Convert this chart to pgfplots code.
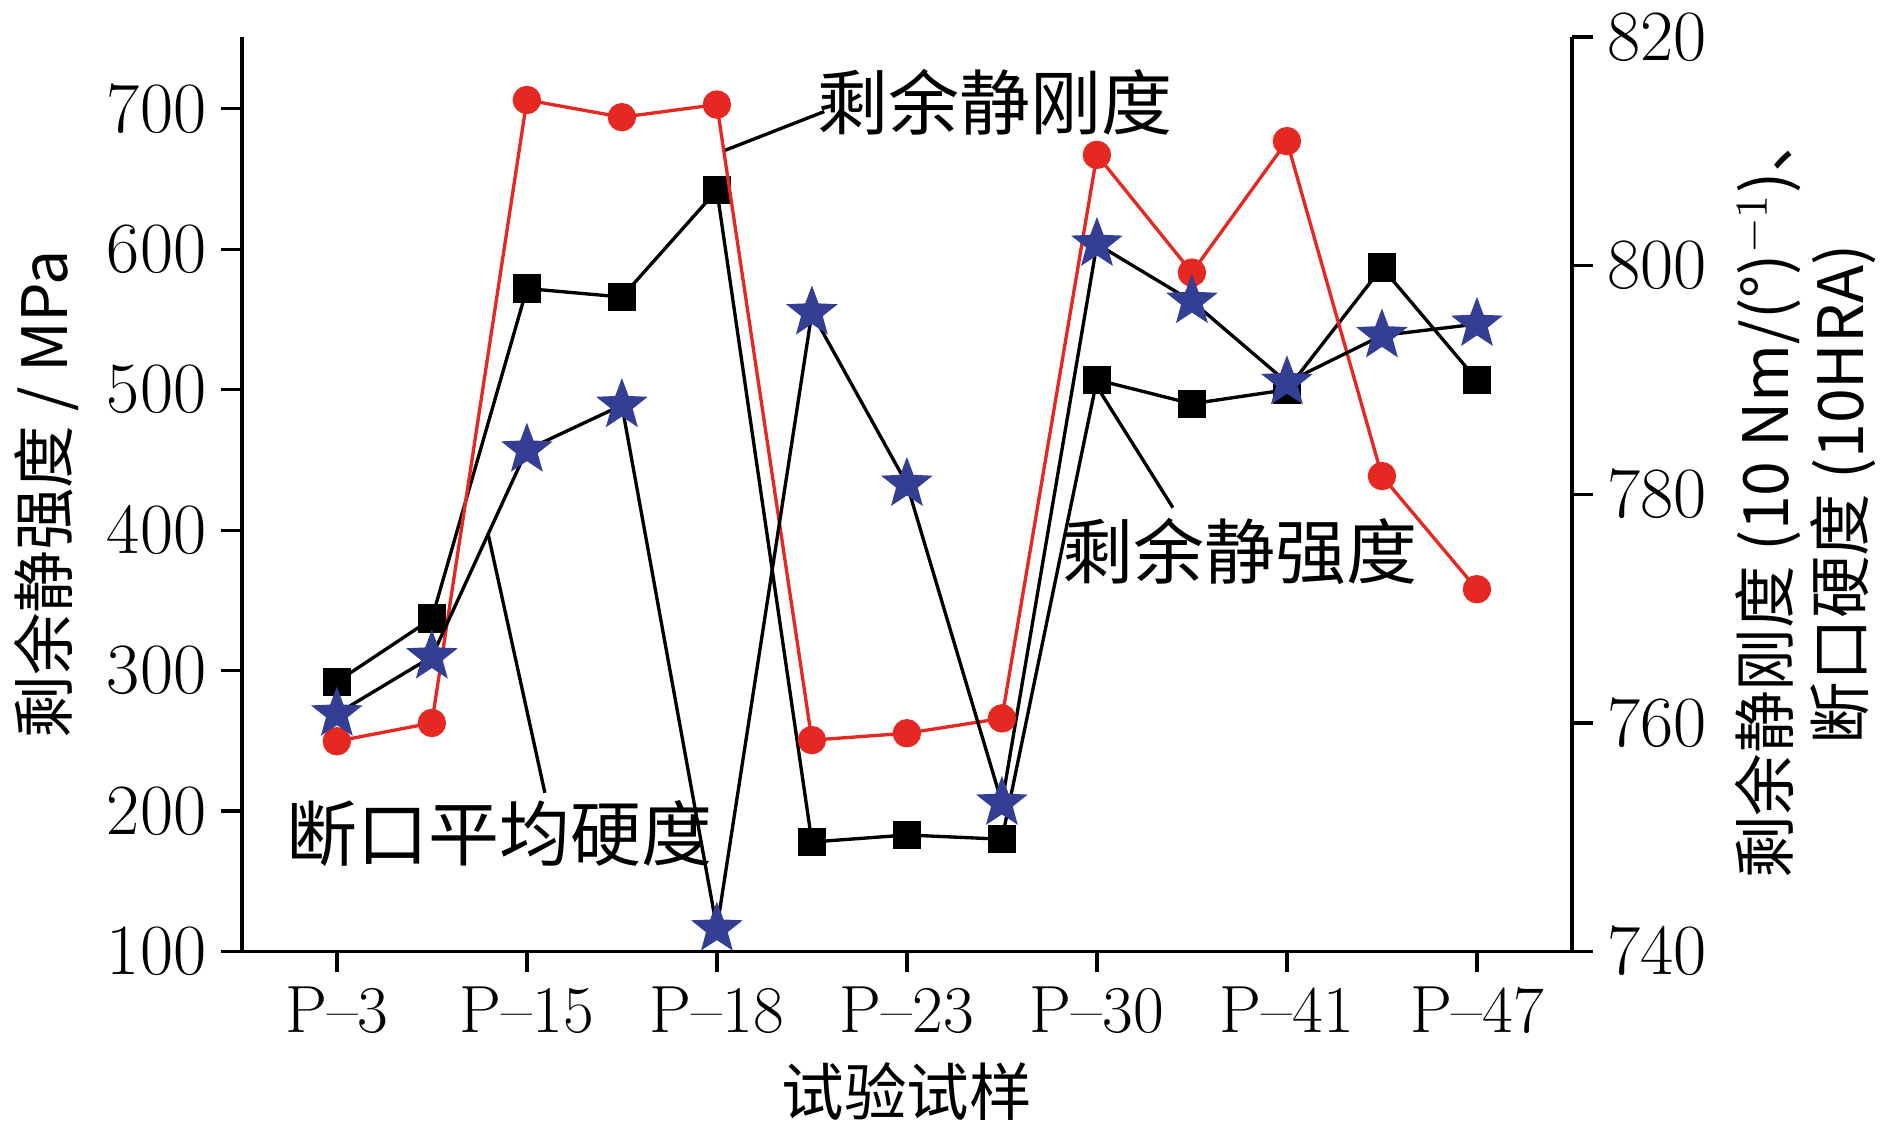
\documentclass[border=0pt]{standalone}
\usepackage{pgfplots}
\pgfplotsset{compat=1.18}
\usepackage{fontspec}
\newfontfamily\cjk{Noto Sans CJK SC}
\definecolor{myblue}{RGB}{52,62,146}
\definecolor{myred}{RGB}{230,40,35}
\pgfdeclareplotmark{fstar}{%
 \pgfpathmoveto{\pgfqpointpolar{90}{\pgfplotmarksize}}%
 \pgfpathlineto{\pgfqpointpolar{126}{0.42\pgfplotmarksize}}%
 \pgfpathlineto{\pgfqpointpolar{162}{\pgfplotmarksize}}%
 \pgfpathlineto{\pgfqpointpolar{198}{0.42\pgfplotmarksize}}%
 \pgfpathlineto{\pgfqpointpolar{234}{\pgfplotmarksize}}%
 \pgfpathlineto{\pgfqpointpolar{270}{0.42\pgfplotmarksize}}%
 \pgfpathlineto{\pgfqpointpolar{306}{\pgfplotmarksize}}%
 \pgfpathlineto{\pgfqpointpolar{342}{0.42\pgfplotmarksize}}%
 \pgfpathlineto{\pgfqpointpolar{18}{\pgfplotmarksize}}%
 \pgfpathlineto{\pgfqpointpolar{54}{0.42\pgfplotmarksize}}%
 \pgfpathclose\pgfusepathqfill}
\begin{document}
\begin{tikzpicture}
\pgfplotsset{every axis/.style={width=11.2cm,height=7.7cm,scale only axis,
 xmin=-1,xmax=13, xtick={0,2,4,6,8,10,12}, xticklabels={P--3,P--15,P--18,P--23,P--30,P--41,P--47},
 tick style={black,thick}, tick align=outside, major tick length=5pt,
 ticklabel style={font=\fontsize{16}{18}\selectfont}, axis line style={thick},
 label style={font=\cjk\fontsize{15}{18}\selectfont}}}
\begin{axis}[axis x line*=bottom, axis y line*=left, ymin=100, ymax=751,
 ytick={100,200,...,700}, xlabel={试验试样}, ylabel={剩余静强度 / MPa}, clip=false]
\addplot[black,thick,mark=square*,mark size=3pt] coordinates {(0,292)(1,337)(2,572)(3,566)(4,642)(5,178)(6,183)(7,180)(8,507)(9,490)(10,500)(11,587)(12,507)};
\draw[black,thick] (axis cs:4.07,670)--(axis cs:5.13,698);
\node[font=\cjk\fontsize{17}{19}\selectfont] at (axis cs:6.93,705) {剩余静刚度};
\draw[black,thick] (axis cs:8.03,499)--(axis cs:8.8,416);
\node[font=\cjk\fontsize{17}{19}\selectfont] at (axis cs:9.51,385) {剩余静强度};
\draw[black,thick] (axis cs:1.59,398)--(axis cs:2.19,213);
\node[font=\cjk\fontsize{17}{19}\selectfont] at (axis cs:1.71,184) {断口平均硬度};
\end{axis}
\begin{axis}[axis x line=none, axis y line*=right, ymin=740, ymax=820,
 ytick={740,760,...,820}, ylabel style={align=center},
 ylabel={剩余静刚度 (10 Nm/(°)$^{-1}$)、\\断口硬度 (10HRA)}]
\addplot[myred,thick,mark=*,mark size=3pt] coordinates {(0,758.4)(1,760)(2,814.5)(3,813)(4,814.1)(5,758.5)(6,759.1)(7,760.4)(8,809.7)(9,799.4)(10,810.9)(11,781.6)(12,771.7)};
\addplot[black,thick,mark=fstar,mark size=6.5pt,mark options={fill=myblue,draw=myblue}] coordinates {(0,760.8)(1,765.8)(2,783.9)(3,787.8)(4,742)(5,795.9)(6,780.9)(7,753)(8,801.9)(9,796.9)(10,789.8)(11,793.9)(12,794.9)};
\end{axis}
\end{tikzpicture}
\end{document}
